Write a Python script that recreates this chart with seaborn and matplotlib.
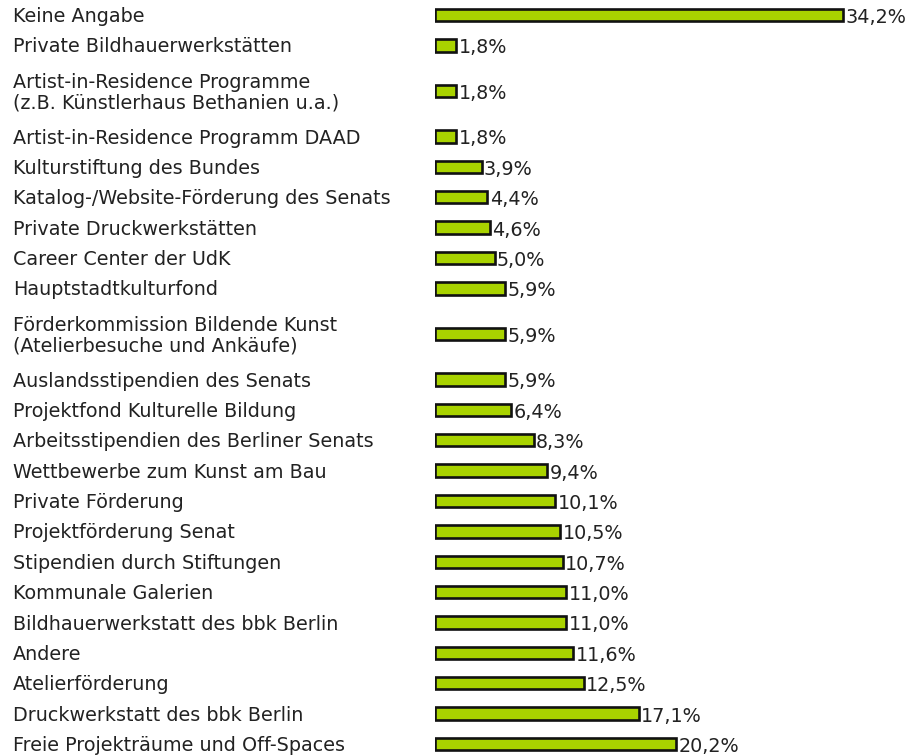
import matplotlib
matplotlib.use("Agg")
import matplotlib.pyplot as plt
import matplotlib.transforms as mtransforms
import seaborn as sns
import pandas as pd
import numpy as np

categories = [
    "Keine Angabe",
    "Private Bildhauerwerkstätten",
    "Artist-in-Residence Programme\n(z.B. Künstlerhaus Bethanien u.a.)",
    "Artist-in-Residence Programm DAAD",
    "Kulturstiftung des Bundes",
    "Katalog-/Website-Förderung des Senats",
    "Private Druckwerkstätten",
    "Career Center der UdK",
    "Hauptstadtkulturfond",
    "Förderkommission Bildende Kunst\n(Atelierbesuche und Ankäufe)",
    "Auslandsstipendien des Senats",
    "Projektfond Kulturelle Bildung",
    "Arbeitsstipendien des Berliner Senats",
    "Wettbewerbe zum Kunst am Bau",
    "Private Förderung",
    "Projektförderung Senat",
    "Stipendien durch Stiftungen",
    "Kommunale Galerien",
    "Bildhauerwerkstatt des bbk Berlin",
    "Andere",
    "Atelierförderung",
    "Druckwerkstatt des bbk Berlin",
    "Freie Projekträume und Off-Spaces",
]
values = [34.2, 1.8, 1.8, 1.8, 3.9, 4.4, 4.6, 5.0, 5.9, 5.9, 5.9, 6.4, 8.3,
          9.4, 10.1, 10.5, 10.7, 11.0, 11.0, 11.6, 12.5, 17.1, 20.2]

# layout: two-line labels take an extra half row above and below
positions = []
p = -1.0
prev_extra = 0.0
for c in categories:
    extra = 0.5 * c.count("\n")
    p += 1.0 + prev_extra + extra
    positions.append(p)
    prev_extra = extra

df = pd.DataFrame({"cat": categories, "val": values, "pos": positions})

W, H = 916, 756
fig = plt.figure(figsize=(W / 100, H / 100), dpi=100)
sns.set_style("white")
plt.rcParams["font.family"] = ["DejaVu Sans"]

ax_left = 435 / W
ax = fig.add_axes([ax_left, 0, 1 - ax_left, 1])

sns.barplot(data=df, x="val", y="pos", orient="y", native_scale=True,
            color="#A9D300", edgecolor="#111111", linewidth=1.9,
            width=0.41, saturation=1, ax=ax)

px_per_unit = 11.93
ax.set_xlim(0, (W - 435) / px_per_unit)
unit = 30.375
y0 = 15
ax.set_ylim((H - y0) / unit, -y0 / unit)
ax.axis("off")

labels = [f"{v:.1f}".replace(".", ",") + "%" for v in values]
for v, pos, lab in zip(values, positions, labels):
    ax.text(v + 0.18, pos + 0.08, lab, ha="left", va="center",
            fontsize=13.8, color="#222222")

trans = mtransforms.blended_transform_factory(fig.transFigure, ax.transData)
for c, pos in zip(categories, positions):
    ax.text(13 / W, pos + 0.05, c, transform=trans, ha="left", va="center",
            fontsize=13.8, color="#222222", linespacing=1.08, clip_on=False)

fig.savefig("out.png", dpi=100)
